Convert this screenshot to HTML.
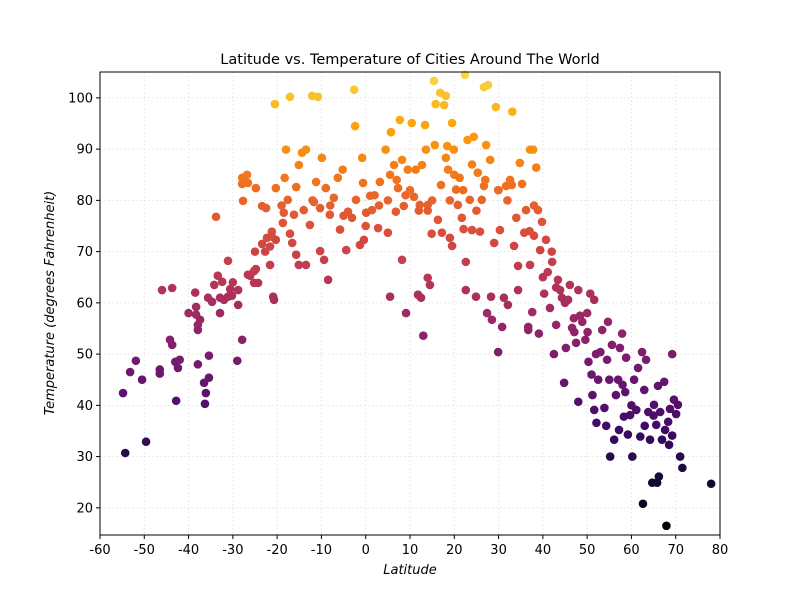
<!DOCTYPE html>
<html><head><meta charset="utf-8"><style>
body{margin:0;background:#fff}
svg text{font-family:"DejaVu Sans","Liberation Sans",sans-serif;fill:#000}
</style></head><body>
<svg id="chart" width="800" height="600" viewBox="0 0 800 600" xmlns="http://www.w3.org/2000/svg">
<rect x="0" y="0" width="800" height="600" fill="#fff"/>
<text x="410" y="64" font-size="14.5" text-anchor="middle">Latitude vs. Temperature of Cities Around The World</text>
<g id="grid"></g>
<g id="points"></g>
<rect x="100" y="72" width="620" height="463" fill="none" stroke="#000" stroke-width="1"/>
<g id="axes"></g>
<text x="410" y="574" font-size="13" font-style="italic" text-anchor="middle">Latitude</text>
<text transform="translate(54,303) rotate(-90)" font-size="13" font-style="italic" text-anchor="middle">Temperature (degrees Fahrenheit)</text>
</svg>
<script>
const lat=[-54.8,-54.3,-53.2,-51.9,-50.5,-49.6,-46,-46.5,-46.5,-43.7,-44.2,-43.7,-42.8,-43,-42.4,-42,-38.5,-38.3,-38.3,-37.9,-37.9,-37.4,-37.9,-36.5,-36.3,-36.1,-35.4,-35.4,-35.6,-34.7,-34.2,-33.8,-33.4,-32.9,-32.9,-32.4,-32,-31.1,-30.6,-31.1,-30.2,-29,-28.8,-28.8,-27.9,-27.9,-27.9,-27.7,-26.8,-26.6,-26.6,-26.1,-25.2,-25.2,-24.8,-24.8,-24.3,-23.4,-23.4,-22.5,-22.7,-22.3,-21.6,-21.6,-21.2,-21.2,-20.9,-20.7,-20.5,-20.3,-20.3,-18.7,-18.5,-18.3,-18,-17.1,-17.6,-17.1,-16.6,-16.2,-15.7,-15.7,-15.1,-15.1,-14.4,-14,-13.5,-13.5,-12.6,-12.1,-11.7,-11.2,-10.8,-10.3,-10.3,-9.9,-9.4,-9,-8.5,-8.1,-7.2,-6.3,-5.8,-5.2,-4.4,-4,-3.1,-2.6,-2.4,-2.2,-1.3,-0.8,-0.6,-0.4,0.1,1,1.4,2.8,3.2,4.5,5,5.5,5.5,5.7,6.4,6.8,7.3,7.7,8.2,8.2,8.6,9.1,9.5,10.4,10.9,11.3,11.8,12.2,12.5,12.7,13,13.4,13.6,14,14,14.5,14.9,15.4,15.6,15.8,16.3,16.8,17.2,17.7,18.1,18.1,18.4,18.6,19,19.5,19.5,19.9,20.4,20.8,21.2,21.7,22.1,22.4,22.6,22.6,23,23.5,24,24.4,24.9,25.3,25.8,26.2,26.7,26.7,27.2,27.4,27.6,28.1,28.3,28.5,29,29.4,29.9,29.9,30.3,30.8,31.2,31.7,32.1,32.6,33.1,33.5,34,34.4,34.4,34.8,35.3,35.8,36.2,36.7,36.7,37.1,37.1,37.6,37.8,38,38.5,38.9,39.1,39.4,39.8,40.3,40.7,41.1,41.6,42.1,42.5,43,43.4,43.9,44.3,44.8,45.2,45.7,46.1,46.6,47.1,47.5,48,48,48.4,48.9,49.6,50.1,50.3,50.7,51,51.2,51.6,51.6,52.1,52.5,53,53.4,53.9,54.3,54.5,54.7,55.2,55.6,56.1,56.5,57,57.2,57.4,57.9,58.3,58.6,58.8,59.2,59.7,60.2,60.6,61.1,61.5,62,62.4,62.6,62.9,63.3,63.8,64.2,64.7,65.1,65.6,65.8,66,66.2,66.5,66.9,67.4,67.6,67.9,68.3,68.5,68.7,69.2,69.2,69.6,70.1,70.5,71,71.5,78,0,5,10,15,20,25,30,-5,-12,40,45,50,55,60,65,2,7,12,17,22,27,32,37,42,-8,-19,-25,-30,-40,3,9,14,19,24,33,38,43,47,52,58,63];
const temp=[42.4,30.7,46.5,48.7,45,32.9,62.5,47,46.2,62.9,52.8,51.8,40.9,48.5,47.3,48.9,62,59.2,57.7,55.7,54.7,56.7,48,44.4,40.3,42.4,49.7,45.4,61,60.2,63.5,76.8,65.3,58,61,64.1,60.6,61.2,62.7,68.2,61.4,48.7,59.6,62.5,52.8,84.4,83.2,79.9,85,83.4,65.5,65.3,66.2,63.9,82.4,66.6,63.9,71.5,78.9,78.5,70,72.7,71,67.4,73.9,72.9,61.2,60.6,98.8,82.4,72.3,75.6,77.6,84.4,89.9,100.2,80.1,73.5,71.7,77.2,82.6,69.4,86.9,67.4,89.3,78.1,89.9,67.4,75.2,100.4,79.7,83.6,100.2,70.1,78.5,88.3,68.4,82.4,64.5,77.2,80.5,84.4,74.3,86,70.3,77.8,76.6,101.6,94.5,80.1,71.3,88.3,83.4,72.3,77.6,80.9,78.1,74.6,83.6,89.9,73.7,85,61.2,93.3,86.9,77.8,82.4,95.7,87.9,68.4,78.9,58,86,95.1,80.7,86,61.6,79.1,61,86.9,53.6,94.7,89.9,64.9,79.1,63.5,73.5,103.3,90.8,98.8,76.2,101,73.7,98.6,88.3,100.4,90.6,86,72.7,71.1,95.1,89.9,82.1,79.1,84.4,76.6,74.4,104.5,62.5,68,91.8,80.1,74.2,92.4,61.2,85.4,73.9,80.1,82.8,102.1,90.8,58,102.5,87.9,61.2,56.7,71.7,98.2,82,50.4,74.2,55.3,61,82.8,59.6,84,97.3,71.1,76.6,67.2,62.5,87.3,83.2,73.7,78.1,54.7,55.3,67.4,89.9,58.2,89.9,73.1,86.4,78.1,54,70.3,75.8,61.8,72.3,66,59,68,50,55.7,64.5,62.5,61,44.4,51.2,60.6,63.5,55.1,54.3,52.2,40.7,62.5,57.5,56.3,52.8,54.3,48.5,61.8,46,42,39.1,60.6,36.6,45,50.4,54.7,39.5,36,48.9,56.3,30,51.8,33.3,42,45,35.2,51.2,54,37.8,42.6,49.3,34.3,38.1,30,45,39.1,47.3,33.9,50.4,20.8,43,48.9,38.7,33.3,24.9,40.1,36.2,24.9,43.8,26.1,38.7,33.3,44.6,35.2,16.5,36.8,32.3,39.3,50,34.1,41.1,38.3,40.1,30,27.8,24.7,75,80,82,80,85,78,82,77,80,65,60,58,45,40,38,81,84,78,83,82,84,80,74,70,79,79,70,64,58,79,81,78,80,87,83,79,63,57,50,44,36];
const xTicks=[-60,-50,-40,-30,-20,-10,0,10,20,30,40,50,60,70,80];
const yTicks=[20,30,40,50,60,70,80,90,100];
const NS="http://www.w3.org/2000/svg";
const X0=100,X1=720,Y0=72,Y1=535,XMIN=-60,XMAX=80,YMIN=14.7,YMAX=105.05;
function xs(v){return X0+(v-XMIN)/(XMAX-XMIN)*(X1-X0);}
function ys(v){return Y1-(v-YMIN)/(YMAX-YMIN)*(Y1-Y0);}
const stops=[[0,0,4],[22,11,57],[66,10,104],[106,23,110],[147,38,103],[188,55,84],[221,81,58],[243,120,25],[252,165,10],[246,215,70],[252,255,164]];
function inferno(t){t=Math.max(0,Math.min(1,t));const p=t*10,i=Math.min(9,Math.floor(p)),f=p-i;const a=stops[i],b=stops[i+1];return `rgb(${Math.round(a[0]+(b[0]-a[0])*f)},${Math.round(a[1]+(b[1]-a[1])*f)},${Math.round(a[2]+(b[2]-a[2])*f)})`;}
const grid=document.getElementById('grid'),axes=document.getElementById('axes'),pts=document.getElementById('points');
function mk(tag,attrs,parent){const e=document.createElementNS(NS,tag);for(const k in attrs)e.setAttribute(k,attrs[k]);parent.appendChild(e);return e;}
xTicks.forEach(v=>{const x=xs(v);
 const g=mk('line',{x1:x,x2:x,y1:Y0,y2:Y1,stroke:'#ddd','stroke-dasharray':'1.5,2.5','stroke-width':0.8},grid);
 
 
 const t=mk('line',{x1:x,x2:x,y1:Y1,y2:Y1+4,stroke:'#000'},axes);
 
 
 const l=mk('text',{x:x,y:Y1+19,'font-size':13,'text-anchor':'middle'},axes);l.textContent=v;
 
 
});
yTicks.forEach(v=>{const y=ys(v);
 const g=mk('line',{x1:X0,x2:X1,y1:y,y2:y,stroke:'#ddd','stroke-dasharray':'1.5,2.5','stroke-width':0.8},grid);
 
 
 const t=mk('line',{x1:X0-4,x2:X0,y1:y,y2:y,stroke:'#000'},axes);
 
 
 const l=mk('text',{x:X0-7,y:y+4.5,'font-size':13,'text-anchor':'end'},axes);l.textContent=v;
 
 
});
const tmin=Math.min(...temp),tmax=Math.max(...temp);
lat.forEach((la,i)=>{const c=mk('circle',{cx:xs(la),cy:ys(temp[i]),r:4.3,fill:inferno((temp[i]-tmin)/(tmax-tmin)*0.9)},pts);
 
 
});
</script>
</body></html>
